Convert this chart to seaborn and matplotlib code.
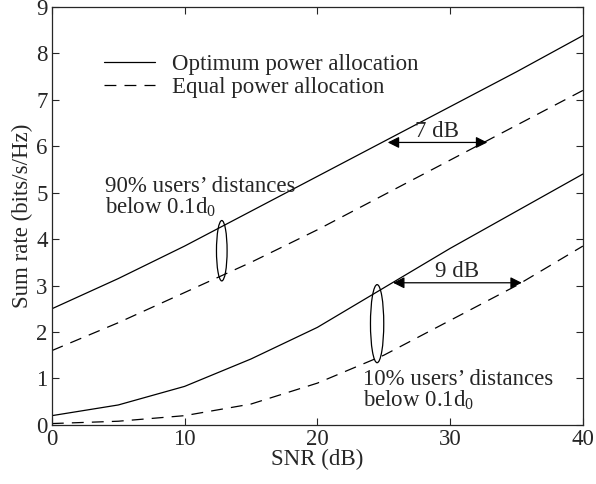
import numpy as np
import pandas as pd
import matplotlib
matplotlib.use("Agg")
import matplotlib.pyplot as plt
import seaborn as sns
from matplotlib.patches import Ellipse

snr_db = [0, 5, 10, 15, 20, 25, 30, 35, 40]
opt_90 = [2.5, 3.15, 3.85, 4.6, 5.35, 6.1, 6.85, 7.6, 8.38]
eq_90 = [1.6, 2.2, 2.85, 3.5, 4.2, 4.95, 5.7, 6.45, 7.2]
opt_10 = [0.2, 0.43, 0.83, 1.42, 2.1, 2.95, 3.8, 4.6, 5.4]
eq_10 = [0.03, 0.08, 0.2, 0.45, 0.9, 1.5, 2.25, 3.0, 3.85]

sns.set_style("ticks")
plt.rcParams["font.family"] = ["Liberation Serif", "DejaVu Serif"]
plt.rcParams["mathtext.fontset"] = "custom"
plt.rcParams["mathtext.rm"] = "Liberation Serif"
plt.rcParams["mathtext.it"] = "Liberation Serif"

fig = plt.figure(figsize=(5.96, 4.84), dpi=100)
ax = fig.add_axes([0.087, 0.122, 0.891, 0.864])

fs = 16.5
dash = [9.5, 6.5]
sns.lineplot(x=snr_db, y=opt_90, ax=ax, color="black", lw=0.9, label="Optimum power allocation")
sns.lineplot(x=snr_db, y=eq_90, ax=ax, color="black", lw=0.9, label="Equal power allocation")
ax.lines[-1].set_dashes(dash)
sns.lineplot(x=snr_db, y=opt_10, ax=ax, color="black", lw=0.9)
sns.lineplot(x=snr_db, y=eq_10, ax=ax, color="black", lw=0.9)
ax.lines[-1].set_dashes(dash)

ax.set_xlim(0, 40)
ax.set_ylim(0, 9)
ax.set_xticks([0, 10, 20, 30, 40])
ax.set_yticks(range(0, 10))
ax.tick_params(direction="in", top=True, right=True, labelsize=fs, length=5, width=0.8, pad=3)
for s in ax.spines.values():
    s.set_linewidth(0.9)
ax.set_xlabel("SNR (dB)", fontsize=fs, labelpad=-1)
ax.set_ylabel("Sum rate (bits/s/Hz)", fontsize=fs, labelpad=2)

leg = ax.legend(loc="upper left", bbox_to_anchor=(0.06, 0.937), frameon=False,
                fontsize=fs, handlelength=2.2, handletextpad=0.75, labelspacing=0.1)

# annotations
ax.add_patch(Ellipse((12.8, 3.75), 0.8, 1.3, fill=False, color="black", lw=0.9))
ax.add_patch(Ellipse((24.5, 2.18), 1.0, 1.68, fill=False, color="black", lw=0.9))
ax.text(4.0, 5.35, "90% users\u2019 distances\nbelow 0.1d$_0$", fontsize=fs,
        va="top", ha="left", linespacing=0.9)
ax.text(23.4, 1.2, "10% users\u2019 distances\nbelow 0.1d$_0$", fontsize=fs,
        va="top", ha="left", linespacing=0.9)

arrow = dict(arrowstyle="<|-|>", color="black", lw=0.9, mutation_scale=17,
             shrinkA=0, shrinkB=0)
ax.annotate("", xy=(25.3, 6.08), xytext=(32.8, 6.08), arrowprops=arrow)
ax.text(29.0, 6.1, "7 dB", fontsize=fs, ha="center", va="bottom")
ax.annotate("", xy=(25.7, 3.06), xytext=(35.4, 3.06), arrowprops=arrow)
ax.text(30.5, 3.08, "9 dB", fontsize=fs, ha="center", va="bottom")

fig.savefig("out.png", dpi=100)
